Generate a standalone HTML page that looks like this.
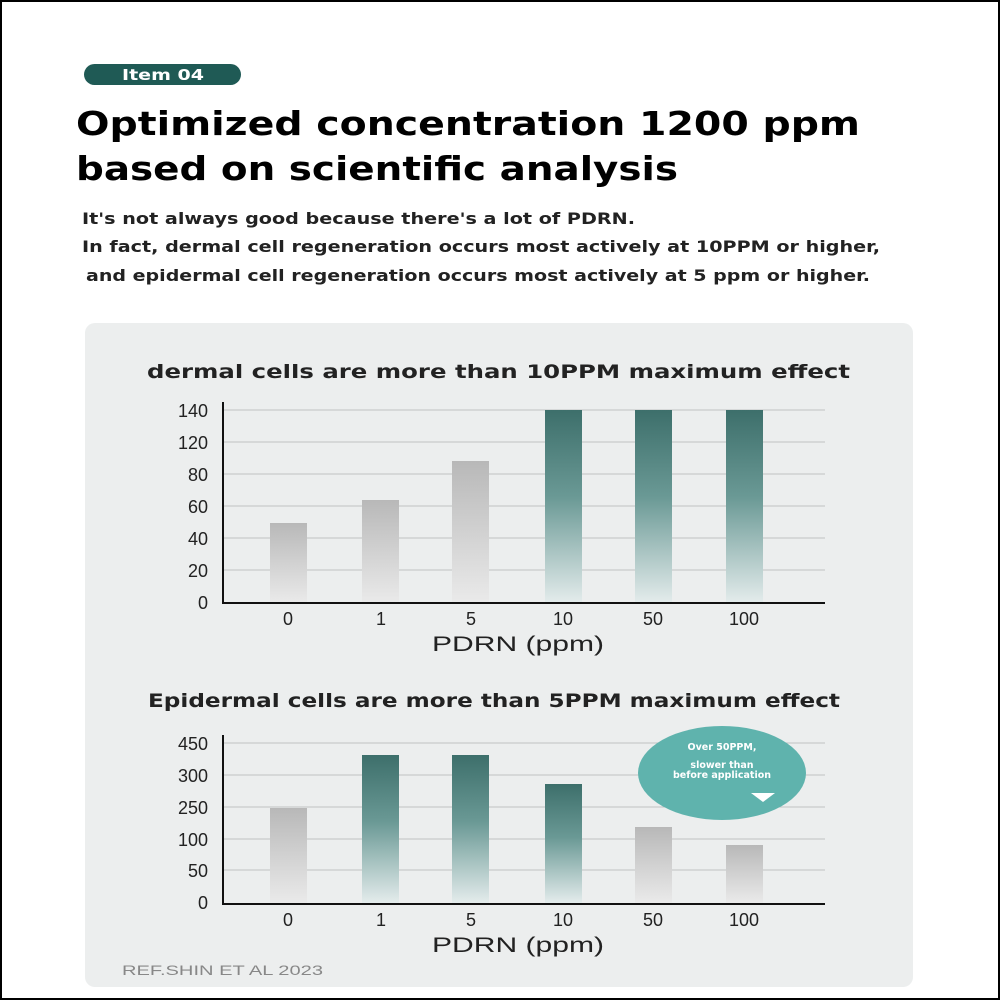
<!DOCTYPE html>
<html><head><meta charset="utf-8"><style>
body{margin:0;width:1000px;height:1000px;background:#fff;overflow:hidden;font-family:"DejaVu Sans","Liberation Sans",sans-serif;}
.frame{position:absolute;left:0;top:0;width:996px;height:996px;border:2px solid #000;}
</style></head><body>
<div class="frame"></div>
<svg width="1000" height="1000" style="position:absolute;left:0;top:0">
<defs>
<linearGradient id="g" x1="0" y1="0" x2="0" y2="1"><stop offset="0" stop-color="#3d6f6b"/><stop offset="0.45" stop-color="#6a9995"/><stop offset="1" stop-color="#e4ecec"/></linearGradient>
<linearGradient id="h" x1="0" y1="0" x2="0" y2="1"><stop offset="0" stop-color="#b8b8b8"/><stop offset="1" stop-color="#eaeaea"/></linearGradient>
</defs>
<rect x="84" y="64" width="157" height="21" rx="10.5" fill="#1f5a55"/>
<text x="122" y="80" textLength="82" lengthAdjust="spacingAndGlyphs" font-size="15" font-weight="bold" fill="#fff">Item 04</text>
<text x="76" y="135" textLength="784" lengthAdjust="spacingAndGlyphs" font-size="33" font-weight="bold" fill="#000">Optimized concentration 1200 ppm</text>
<text x="76" y="180" textLength="602" lengthAdjust="spacingAndGlyphs" font-size="33" font-weight="bold" fill="#000">based on scientific analysis</text>
<text x="82" y="224" textLength="553" lengthAdjust="spacingAndGlyphs" font-size="16" font-weight="bold" fill="#222">It's not always good because there's a lot of PDRN.</text>
<text x="82" y="252" textLength="798" lengthAdjust="spacingAndGlyphs" font-size="16" font-weight="bold" fill="#222">In fact, dermal cell regeneration occurs most actively at 10PPM or higher,</text>
<text x="86" y="281" textLength="784" lengthAdjust="spacingAndGlyphs" font-size="16" font-weight="bold" fill="#222">and epidermal cell regeneration occurs most actively at 5 ppm or higher.</text>
<rect x="85" y="323" width="828" height="664" rx="10" fill="#eceeee"/>
<text x="147" y="378" textLength="703" lengthAdjust="spacingAndGlyphs" font-size="19" font-weight="bold" fill="#222">dermal cells are more than 10PPM maximum effect</text>
<g stroke="#bfc3c3" stroke-width="1">
<line x1="223" y1="410" x2="825" y2="410"/><line x1="223" y1="442" x2="825" y2="442"/><line x1="223" y1="474" x2="825" y2="474"/><line x1="223" y1="506" x2="825" y2="506"/><line x1="223" y1="538" x2="825" y2="538"/><line x1="223" y1="570" x2="825" y2="570"/>
<line x1="223" y1="743" x2="825" y2="743"/><line x1="223" y1="775" x2="825" y2="775"/><line x1="223" y1="807" x2="825" y2="807"/><line x1="223" y1="839" x2="825" y2="839"/><line x1="223" y1="870" x2="825" y2="870"/>
</g>
<g font-family="Liberation Sans,sans-serif" font-size="18" fill="#222" text-anchor="end">
<text x="208" y="417">140</text><text x="208" y="449">120</text><text x="208" y="481">80</text><text x="208" y="513">60</text><text x="208" y="545">40</text><text x="208" y="577">20</text><text x="208" y="609">0</text>
<text x="208" y="750">450</text><text x="208" y="782">300</text><text x="208" y="814">250</text><text x="208" y="846">100</text><text x="208" y="877">50</text><text x="208" y="909">0</text>
</g>
<rect x="270" y="523" width="37" height="80" fill="url(#h)"/>
<rect x="362" y="500" width="37" height="103" fill="url(#h)"/>
<rect x="452" y="461" width="37" height="142" fill="url(#h)"/>
<rect x="545" y="410" width="37" height="193" fill="url(#g)"/>
<rect x="635" y="410" width="37" height="193" fill="url(#g)"/>
<rect x="726" y="410" width="37" height="193" fill="url(#g)"/>
<rect x="270" y="808" width="37" height="95" fill="url(#h)"/>
<rect x="362" y="755" width="37" height="148" fill="url(#g)"/>
<rect x="452" y="755" width="37" height="148" fill="url(#g)"/>
<rect x="545" y="784" width="37" height="119" fill="url(#g)"/>
<rect x="635" y="827" width="37" height="76" fill="url(#h)"/>
<rect x="726" y="845" width="37" height="58" fill="url(#h)"/>
<g stroke="#111" stroke-width="2">
<line x1="223" y1="402" x2="223" y2="603"/><line x1="222" y1="603" x2="825" y2="603"/>
<line x1="223" y1="735" x2="223" y2="904"/><line x1="222" y1="904" x2="825" y2="904"/>
</g>
<g font-family="Liberation Sans,sans-serif" font-size="18" fill="#222" text-anchor="middle">
<text x="288" y="625">0</text><text x="381" y="625">1</text><text x="471" y="625">5</text><text x="563" y="625">10</text><text x="653" y="625">50</text><text x="744" y="625">100</text>
<text x="288" y="926">0</text><text x="381" y="926">1</text><text x="471" y="926">5</text><text x="563" y="926">10</text><text x="653" y="926">50</text><text x="744" y="926">100</text>
</g>
<g font-family="Liberation Sans,sans-serif" font-size="21" fill="#222">
<text x="432" y="651" textLength="172" lengthAdjust="spacingAndGlyphs">PDRN (ppm)</text>
<text x="432" y="952" textLength="172" lengthAdjust="spacingAndGlyphs">PDRN (ppm)</text>
</g>
<text x="148" y="707" textLength="692" lengthAdjust="spacingAndGlyphs" font-size="19" font-weight="bold" fill="#222">Epidermal cells are more than 5PPM maximum effect</text>
<ellipse cx="722" cy="773" rx="84" ry="47" fill="#5fb3ad"/>
<g font-size="9.5" font-weight="bold" fill="#fff" text-anchor="middle">
<text x="722" y="750">Over 50PPM,</text><text x="722" y="768">slower than</text><text x="722" y="778">before application</text>
</g>
<polygon points="751,793 775,793 763,802" fill="#fff"/>
<text x="122" y="975" textLength="201" lengthAdjust="spacingAndGlyphs" font-family="Liberation Sans,sans-serif" font-size="14" fill="#888">REF.SHIN ET AL 2023</text>
</svg>
</body></html>
